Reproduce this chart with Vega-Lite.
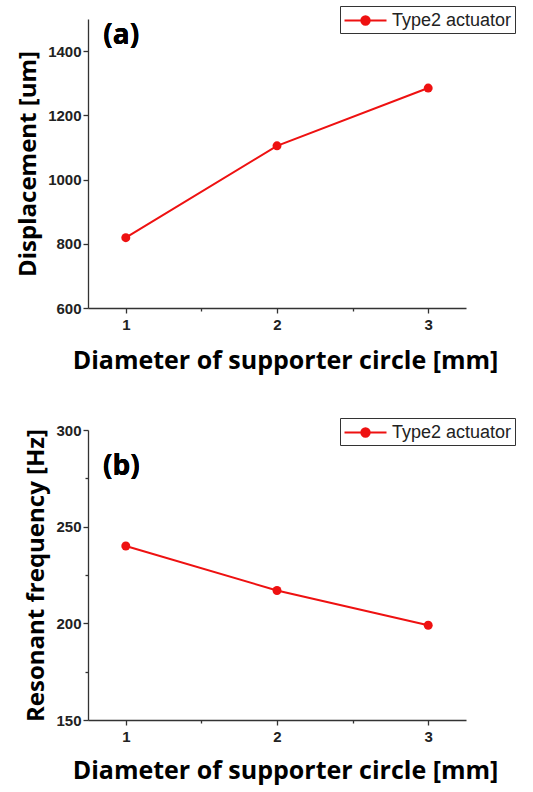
{
  "$schema": "https://vega.github.io/schema/vega-lite/v6.json",
  "background": "white",
  "padding": {"left": 16, "top": 5, "right": 5, "bottom": 5},
  "datasets": {
    "disp": [
      {"diameter": 1, "value": 819, "series": "Type2 actuator"},
      {"diameter": 2, "value": 1105, "series": "Type2 actuator"},
      {"diameter": 3, "value": 1285, "series": "Type2 actuator"}
    ],
    "freq": [
      {"diameter": 1, "value": 240, "series": "Type2 actuator"},
      {"diameter": 2, "value": 217, "series": "Type2 actuator"},
      {"diameter": 3, "value": 199, "series": "Type2 actuator"}
    ]
  },
  "config": {
    "view": {"stroke": null},
    "axis": {
      "grid": false,
      "domainColor": "#333",
      "domainWidth": 1.3,
      "tickColor": "#333",
      "tickWidth": 1.3,
      "labelFont": "Liberation Sans",
      "labelFontWeight": "bold",
      "labelFontSize": 15,
      "labelColor": "#222",
      "titleFont": "Open Sans",
      "titleFontWeight": "bold",
      "titleFontSize": 24,
      "titleColor": "#000"
    },
    "axisX": {"titleFontSize": 25},
    "legend": {
      "orient": "none",
      "legendX": 252,
      "legendY": -13,
      "strokeColor": "#333",
      "fillColor": "white",
      "padding": 3,
      "cornerRadius": 0,
      "labelFont": "Liberation Sans",
      "labelFontSize": 18,
      "labelColor": "#222",
      "labelOffset": 15,
      "symbolOffset": 11,
      "symbolType": "M-2,0H-0.4M0.4,0H2M-0.4,0A0.4,0.4 0 1,1 0.4,0A0.4,0.4 0 1,1 -0.4,0Z",
      "symbolSize": 441,
      "symbolStrokeWidth": 2,
      "symbolStrokeColor": "#ee1111",
      "symbolFillColor": "#ee1111"
    }
  },
  "bounds": "flush",
  "spacing": 122,
  "vconcat": [
    {
      "width": 378,
      "height": 289,
      "data": {"name": "disp"},
      "layer": [
        {
          "mark": {"type": "line", "strokeWidth": 2},
          "encoding": {
            "x": {
              "field": "diameter", "type": "quantitative",
              "scale": {"domain": [0.75, 3.25], "nice": false, "zero": false},
              "axis": {
                "values": [1, 1.5, 2, 2.5, 3],
                "labelExpr": "datum.value % 1 === 0 ? format(datum.value, 'd') : ''",
                "tickSize": {"condition": {"test": "datum.value % 1 !== 0", "value": 3}, "value": 5},
                "labelPadding": 4,
                "titlePadding": 16,
                "titleX": 197,
                "title": "Diameter of supporter circle [mm]"
              }
            },
            "y": {
              "field": "value", "type": "quantitative",
              "scale": {"domain": [600, 1500], "nice": false, "zero": false},
              "axis": {
                "values": [600, 700, 800, 900, 1000, 1100, 1200, 1300, 1400],
                "format": "d",
                "labelExpr": "datum.value % 200 === 0 ? datum.label : ''",
                "tickSize": {"condition": {"test": "datum.value % 200 !== 0", "value": 3}, "value": 5},
                "labelPadding": 2,
                "titlePadding": 7,
                "title": "Displacement [um]"
              }
            },
            "color": {
              "field": "series", "type": "nominal",
              "scale": {"range": ["#ee1111"]},
              "legend": {"title": null}
            }
          }
        },
        {
          "mark": {"type": "point", "filled": true, "size": 80, "opacity": 1, "color": "#ee1111"},
          "encoding": {
            "x": {"field": "diameter", "type": "quantitative"},
            "y": {"field": "value", "type": "quantitative"}
          }
        },
        {
          "mark": {"type": "text", "text": "(a)", "font": "Open Sans", "fontWeight": "bold", "fontSize": 28, "color": "#000"},
          "encoding": {
            "x": {"datum": 0.97, "type": "quantitative"},
            "y": {"datum": 1446, "type": "quantitative"}
          }
        }
      ]
    },
    {
      "width": 378,
      "height": 290,
      "data": {"name": "freq"},
      "layer": [
        {
          "mark": {"type": "line", "strokeWidth": 2},
          "encoding": {
            "x": {
              "field": "diameter", "type": "quantitative",
              "scale": {"domain": [0.75, 3.25], "nice": false, "zero": false},
              "axis": {
                "values": [1, 1.5, 2, 2.5, 3],
                "labelExpr": "datum.value % 1 === 0 ? format(datum.value, 'd') : ''",
                "tickSize": {"condition": {"test": "datum.value % 1 !== 0", "value": 3}, "value": 5},
                "labelPadding": 4,
                "titlePadding": 14,
                "titleX": 197,
                "title": "Diameter of supporter circle [mm]"
              }
            },
            "y": {
              "field": "value", "type": "quantitative",
              "scale": {"domain": [150, 300], "nice": false, "zero": false},
              "axis": {
                "values": [150, 175, 200, 225, 250, 275, 300],
                "format": "d",
                "labelExpr": "datum.value % 50 === 0 ? datum.label : ''",
                "tickSize": {"condition": {"test": "datum.value % 50 !== 0", "value": 3}, "value": 5},
                "labelPadding": 2,
                "titlePadding": 7,
                "title": "Resonant frequency [Hz]"
              }
            },
            "color": {
              "field": "series", "type": "nominal",
              "scale": {"range": ["#ee1111"]},
              "legend": {"title": null, "legendY": -12}
            }
          }
        },
        {
          "mark": {"type": "point", "filled": true, "size": 80, "opacity": 1, "color": "#ee1111"},
          "encoding": {
            "x": {"field": "diameter", "type": "quantitative"},
            "y": {"field": "value", "type": "quantitative"}
          }
        },
        {
          "mark": {"type": "text", "text": "(b)", "font": "Open Sans", "fontWeight": "bold", "fontSize": 28, "color": "#000"},
          "encoding": {
            "x": {"datum": 0.97, "type": "quantitative"},
            "y": {"datum": 281, "type": "quantitative"}
          }
        }
      ]
    }
  ],
  "resolve": {"scale": {"color": "independent"}, "legend": {"color": "independent"}}
}
